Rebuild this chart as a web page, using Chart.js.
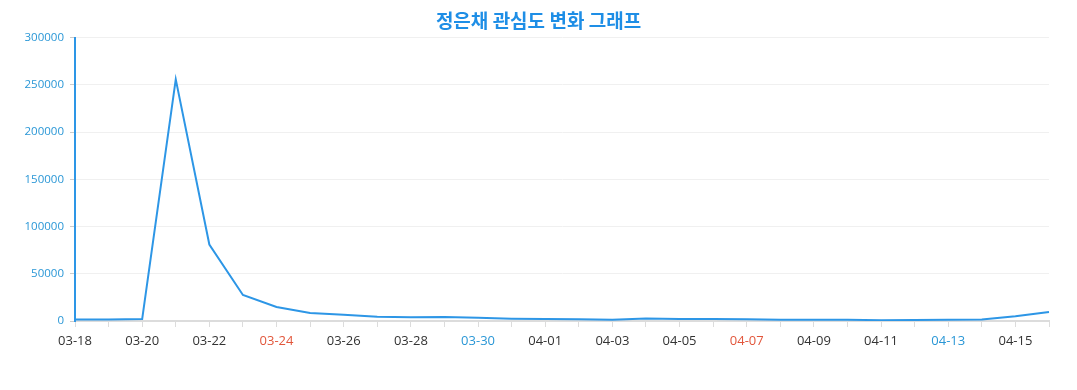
<!DOCTYPE html>
<html>
<head>
<meta charset="utf-8">
<script src="https://cdn.jsdelivr.net/npm/chart.js@4/dist/chart.umd.min.js"></script>
<style>
  html, body { margin: 0; padding: 0; background: #fff; }
  #wrap { width: 1077px; height: 390px; }
</style>
</head>
<body>
<div id="wrap"><canvas id="chart"></canvas></div>
<script>
// 날짜 (03-18 ~ 04-16)
const dates = ['03-18','03-19','03-20','03-21','03-22','03-23','03-24','03-25','03-26','03-27',
               '03-28','03-29','03-30','03-31','04-01','04-02','04-03','04-04','04-05','04-06',
               '04-07','04-08','04-09','04-10','04-11','04-12','04-13','04-14','04-15','04-16'];
// 관심도 값
const interest = [1500, 1500, 2000, 256000, 81000, 27500, 14800, 8500, 6500, 4500,
                  4000, 4200, 3500, 2500, 2000, 1800, 1200, 2600, 2200, 2000,
                  1800, 1200, 1200, 1300, 900, 1100, 1200, 1700, 5000, 9500];
const yTicks = [0, 50000, 100000, 150000, 200000, 250000, 300000];
// 빨간/파란 날짜 라벨
const redDates = ['03-24', '04-07'];
const blueDates = ['03-30', '04-13'];

const blue = '#2d96e6';

new Chart(document.getElementById('chart'), {
  type: 'line',
  data: {
    labels: dates,
    datasets: [{
      label: '관심도',
      data: interest,
      borderColor: blue,
      borderWidth: 2,
      pointRadius: 0,
      tension: 0,
      fill: false
    }]
  },
  options: {
    responsive: true,
    maintainAspectRatio: false,
    animation: false,
    layout: { padding: 0 },
    plugins: {
      legend: { display: false },
      tooltip: { enabled: false },
      title: {
        display: true,
        text: '정은채 관심도 변화 그래프',
        color: '#1e8ee6',
        font: { family: '"Noto Sans CJK KR", "Noto Sans", sans-serif', size: 19, weight: 'bold' },
        padding: { top: 9, bottom: 6 }
      }
    },
    scales: {
      x: {
        offset: false,
        border: { color: '#dcdcdc', width: 2 },
        grid: { drawOnChartArea: false, tickLength: 6, color: '#dcdcdc' },
        ticks: {
          autoSkip: false,
          maxRotation: 0,
          padding: 6,
          font: { family: '"Open Sans", "Noto Sans", sans-serif', size: 13 },
          color: (ctx) => {
            const d = dates[ctx.index];
            if (redDates.includes(d)) return '#e2563b';
            if (blueDates.includes(d)) return '#2a97d6';
            return '#333333';
          },
          callback: (v, i) => (i % 2 === 0 ? dates[i] : '')
        },
        afterFit: (scale) => { scale.height = 69; scale.paddingRight = 28; }
      },
      y: {
        min: 0,
        max: 300000,
        afterBuildTicks: (scale) => { scale.ticks = yTicks.map(v => ({ value: v })); },
        border: { color: blue, width: 2 },
        grid: { color: '#f0f0f0', tickColor: '#cccccc', tickLength: 5 },
        ticks: {
          padding: 6,
          color: '#2a97d6',
          font: { family: '"Open Sans", "Noto Sans", sans-serif', size: 11.5 },
          callback: (v) => String(v)
        },
        afterFit: (scale) => { scale.width = 75; }
      }
    }
  }
});
</script>
</body>
</html>
